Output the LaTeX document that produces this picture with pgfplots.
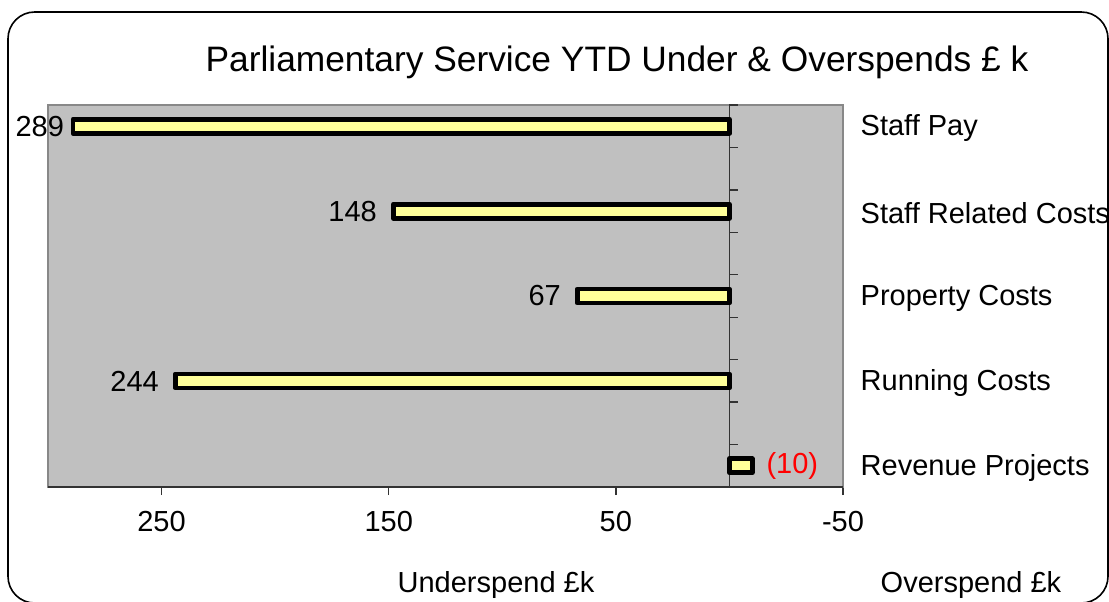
\documentclass[border=0pt]{standalone}
\usepackage{pgfplots}
\pgfplotsset{compat=1.18}
\usepackage{fontspec}
\setmainfont{Liberation Sans}
\definecolor{plotgray}{HTML}{C0C0C0}
\definecolor{barfill}{HTML}{FFFF99}
\definecolor{framegray}{HTML}{888888}
\definecolor{axisdark}{HTML}{333333}
\newcommand{\lblfont}{\fontsize{21.75}{26}\selectfont}
\begin{document}
\begin{tikzpicture}[x=0.75pt,y=-0.75pt]
\path[use as bounding box] (0,0) rectangle (1109,601);
\begin{scope}
\clip (0,0) rectangle (1109,601);
\draw[line width=1.2pt, rounded corners=20pt] (8,12) rectangle (1108,603);
\end{scope}
\node[font=\fontsize{26.5}{30}\selectfont] at (617,62) {Parliamentary Service YTD Under \& Overspends £ k};
\node[font=\lblfont] at (496,585) {Underspend £k};
\node[font=\lblfont] at (971,585) {Overspend £k};
\coordinate (plotorigin) at (48,487);
\begin{axis}[
  at={(plotorigin)}, anchor=south west,
  scale only axis, width=596.25pt, height=286.5pt,
  xbar, bar width=10.5pt, bar shift=0pt,
  xmin=-50, xmax=300, x dir=reverse,
  ymin=-0.5, ymax=8.5,
  /pgf/number format/assume math mode=true,
  axis background/.style={fill=plotgray},
  axis line style={draw=framegray, line width=1.5pt},
  xtick={-50,50,150,250},
  xticklabels={-50,50,150,250},
  tick align=outside,
  major tick length=6pt,
  xtick pos=bottom,
  x tick style={draw=axisdark, line width=1pt},
  x tick label style={font=\lblfont, yshift=-8.5pt},
  ytick={0,2,4,6,8},
  yticklabels={Revenue Projects,Running Costs,Property Costs,Staff Related Costs,Staff Pay},
  yticklabel pos=right,
  y tick style={draw=none},
  y tick label style={font=\lblfont, anchor=west, xshift=3.75pt, yshift=-1.5pt},
  clip=false,
  bar style/.style={fill=barfill, draw=black, line width=3.6pt, line join=round},
]
\draw[axisdark, line width=1.5pt] (axis cs:300,-0.5) -- (axis cs:-50,-0.5);
\draw[axisdark, line width=1.2pt] (axis cs:0,-0.5) -- (axis cs:0,8.5);
\pgfplotsinvokeforeach{-0.5,0.5,1.5,2.5,3.5,4.5,5.5,6.5,7.5,8.5}{
  \draw[axisdark, line width=1pt] (axis cs:0,#1) -- ++(6.75pt,0pt);
}
% underspends
\addplot[bar style,
  nodes near coords={\pgfmathprintnumber[assume math mode=true]{\pgfplotspointmeta}},
  every node near coord/.style={anchor=east, inner sep=0pt, xshift=-5pt, text=black,
    font=\lblfont}]
  coordinates {(289,8)};
\addplot[bar style,
  nodes near coords={\pgfmathprintnumber[assume math mode=true]{\pgfplotspointmeta}},
  every node near coord/.style={anchor=east, inner sep=0pt, xshift=-10.5pt, text=black,
    font=\lblfont}]
  coordinates {(148,6) (67,4) (244,2)};
% overspend
\addplot[bar style,
  nodes near coords={(10)},
  every node near coord/.style={anchor=west, inner sep=0pt, xshift=9pt, text=red,
    font=\lblfont}]
  coordinates {(-10,0)};
\end{axis}
\end{tikzpicture}
\end{document}
